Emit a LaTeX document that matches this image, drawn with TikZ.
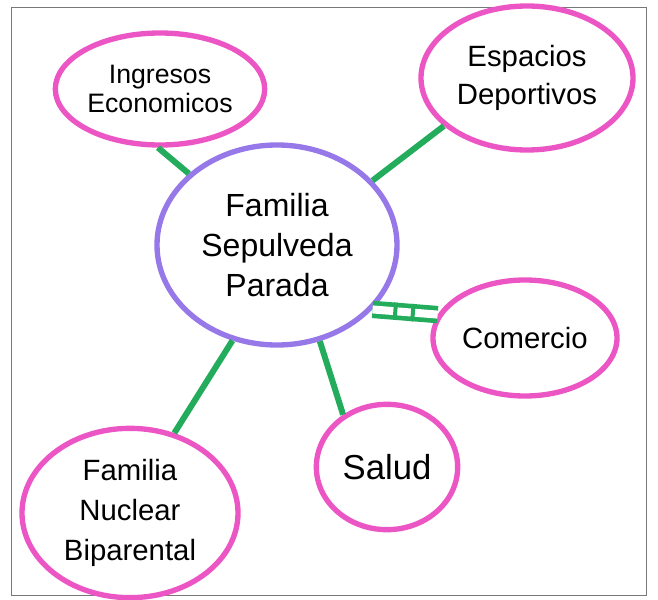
\documentclass[tikz,border=0pt]{standalone}
\usepackage{fontspec}
\setmainfont{Liberation Sans}
\usetikzlibrary{shapes.geometric,decorations.markings}

\definecolor{markpink}{RGB}{236,86,196}
\definecolor{markpurple}{RGB}{150,120,232}
\definecolor{markgreen}{RGB}{34,172,92}

\tikzset{every picture/.style={line width=0.75pt}}
\tikzset{
  circ/.style={ellipse, draw=markpink, line width=4pt, inner sep=0pt, align=center},
  famcirc/.style={circ, draw=markpurple},
  tie/.style={draw=markgreen, line width=4.5pt},
  strongtie/.style={draw=markgreen, line width=3.5pt, double=white, double distance=6pt,
    postaction={decorate, decoration={markings,
      mark=at position 0.35 with {\draw[markgreen, line width=3pt] (0,-6.5pt) -- (0,6.5pt);},
      mark=at position 0.62 with {\draw[markgreen, line width=3pt] (0,-6.5pt) -- (0,6.5pt);}}}}
}

\begin{document}
\begin{tikzpicture}[x=0.75pt,y=0.75pt,yscale=-1,xscale=1]
\useasboundingbox (0,0) rectangle (658,600);

%Shape: Rectangle (frame)
\draw [color={rgb, 255:red, 120; green, 120; blue, 120}] (11,7) -- (646,7) -- (646,595) -- (11,595) -- cycle ;

%Shape: Ellipse (centre)
\draw (277,245) node [famcirc, minimum width=180pt, minimum height=150pt,
  font=\fontsize{24}{30}\selectfont] (fam) {Familia\\ Sepulveda\\ Parada};

%Shape: Ellipse
\draw (160,89) node [circ, minimum width=157pt, minimum height=84pt,
  font=\fontsize{20}{22}\selectfont] (ing) {Ingresos\\ Economicos};
%Shape: Ellipse
\draw (527,78) node [circ, minimum width=159pt, minimum height=108pt,
  font=\fontsize{22}{28}\selectfont] (esp) {Espacios\\ Deportivos};
%Shape: Ellipse
\draw (525,338) node [circ, minimum width=138pt, minimum height=87pt,
  font=\fontsize{22}{26}\selectfont] (com) {Comercio};
%Shape: Ellipse
\draw (387,467) node [circ, minimum width=106pt, minimum height=94pt,
  font=\fontsize{26}{30}\selectfont] (sal) {Salud};
%Shape: Ellipse
\draw (130,513) node [circ, minimum width=162pt, minimum height=127pt,
  font=\fontsize{22}{30}\selectfont] (nuc) {Familia\\ Nuclear\\ Biparental};

% Connectors
\draw [tie] (fam.141) -- (ing.268) ;
\draw [tie] (fam.34) -- (esp.210) ;
\draw [strongtie] (fam.-34) -- (com.165) ;
\draw [tie] (fam.-66) -- (sal.130) ;
\draw [tie] (fam.245) -- (nuc.61) ;

\end{tikzpicture}
\end{document}
